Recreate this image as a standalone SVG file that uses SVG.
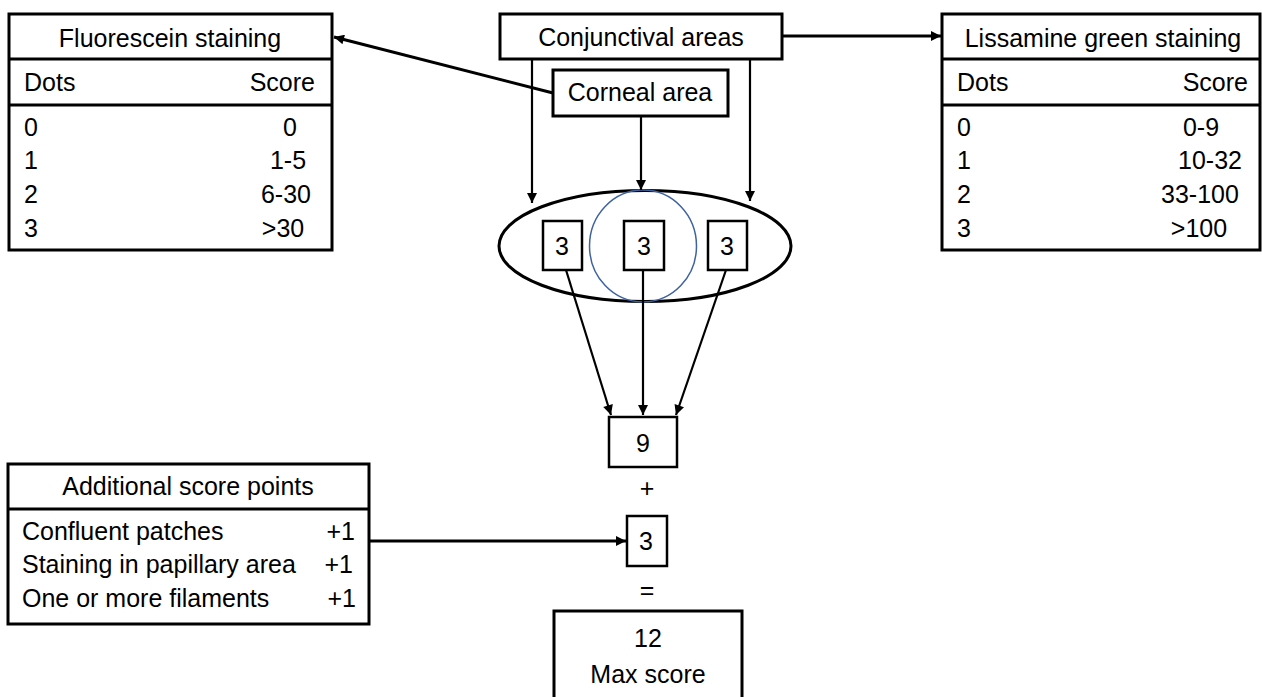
<svg xmlns="http://www.w3.org/2000/svg" width="1262" height="697" viewBox="0 0 1262 697">
<style>
text{font-family:"Liberation Sans",Arial,sans-serif;font-size:25px;fill:#000}
.box{fill:#fff;stroke:#000;stroke-width:3}
.sbox{fill:#fff;stroke:#000;stroke-width:2.5}
.sep{stroke:#000;stroke-width:3}
.c{text-anchor:middle}
.e{text-anchor:end}
.ln{stroke:#000;stroke-width:2.2;fill:none}
.lnt{stroke:#000;stroke-width:3;fill:none}
</style>
<defs>
<marker id="ah" viewBox="0 0 10 10" refX="10" refY="5" markerWidth="13" markerHeight="10" markerUnits="userSpaceOnUse" orient="auto"><path d="M0,0 L10,5 L0,10 z" fill="#000"/></marker>
</defs>
<rect width="1262" height="697" fill="#fff"/>
<g id="fluorescein">
<rect class="box" x="9" y="14" width="323" height="236"/>
<line class="sep" x1="9" y1="59" x2="332" y2="59"/>
<line class="sep" x1="9" y1="105" x2="332" y2="105"/>
<text class="c" x="170" y="47">Fluorescein staining</text>
<text x="24" y="91">Dots</text>
<text class="e" x="315" y="91">Score</text>
<text x="24" y="136">0</text><text class="c" x="290" y="136">0</text>
<text x="24" y="169">1</text><text class="c" x="288" y="169">1-5</text>
<text x="24" y="203">2</text><text class="c" x="286" y="203">6-30</text>
<text x="24" y="237">3</text><text class="c" x="283" y="237">&gt;30</text>
</g>
<g id="lissamine">
<rect class="box" x="942" y="14" width="318" height="236"/>
<line class="sep" x1="942" y1="59" x2="1260" y2="59"/>
<line class="sep" x1="942" y1="105" x2="1260" y2="105"/>
<text class="c" x="1103" y="47">Lissamine green staining</text>
<text x="957" y="91">Dots</text>
<text class="e" x="1248" y="91">Score</text>
<text x="957" y="136">0</text><text class="c" x="1201" y="136">0-9</text>
<text x="957" y="169">1</text><text class="c" x="1210" y="169">10-32</text>
<text x="957" y="203">2</text><text class="c" x="1200" y="203">33-100</text>
<text x="957" y="237">3</text><text class="c" x="1199" y="237">&gt;100</text>
</g>
<g id="conjunctival">
<rect class="box" x="500" y="14" width="282" height="45"/>
<text class="c" x="641" y="46">Conjunctival areas</text>
</g>
<g id="corneal">
<rect class="box" x="553" y="70" width="175" height="46"/>
<text class="c" x="640" y="101">Corneal area</text>
</g>
<g id="eye">
<ellipse cx="645" cy="246" rx="146" ry="55.5" fill="#fff" stroke="#000" stroke-width="3"/>
<ellipse cx="643" cy="246" rx="53.5" ry="56" fill="none" stroke="#3f62a0" stroke-width="1.5"/>
</g>
<g id="score-left">
<rect class="sbox" x="543" y="221" width="39" height="49"/>
<text class="c" x="562" y="255">3</text>
</g>
<g id="score-mid">
<rect class="sbox" x="624" y="221" width="40" height="49"/>
<text class="c" x="644" y="255">3</text>
</g>
<g id="score-right">
<rect class="sbox" x="708" y="221" width="39" height="49"/>
<text class="c" x="727" y="255">3</text>
</g>
<g id="nine">
<rect class="sbox" x="609" y="417" width="68" height="50"/>
<text class="c" x="643" y="452">9</text>
</g>
<g id="plus"><text class="c" x="647" y="497">+</text></g>
<g id="three">
<rect class="sbox" x="627" y="516" width="40" height="50"/>
<text class="c" x="646" y="550">3</text>
</g>
<g id="equals"><text class="c" x="647" y="599">=</text></g>
<g id="max">
<rect class="box" x="554" y="611" width="188" height="90"/>
<text class="c" x="648" y="647">12</text>
<text class="c" x="648" y="683">Max score</text>
</g>
<g id="additional">
<rect class="box" x="8" y="464" width="361" height="160"/>
<line class="sep" x1="8" y1="509" x2="369" y2="509"/>
<text class="c" x="188" y="495">Additional score points</text>
<text x="22" y="540">Confluent patches</text><text class="e" x="355" y="540">+1</text>
<text x="22" y="573">Staining in papillary area</text><text class="e" x="353" y="573">+1</text>
<text x="22" y="607">One or more filaments</text><text class="e" x="356" y="607">+1</text>
</g>
<g id="connectors">
<line class="lnt" x1="782" y1="36" x2="941" y2="36" marker-end="url(#ah)"/>
<line class="lnt" x1="553" y1="93" x2="334" y2="37" marker-end="url(#ah)"/>
<line class="ln" x1="532" y1="59" x2="532" y2="203" marker-end="url(#ah)"/>
<line class="ln" x1="750" y1="59" x2="750" y2="201" marker-end="url(#ah)"/>
<line class="ln" x1="641" y1="116" x2="641" y2="190" marker-end="url(#ah)"/>
<line class="ln" x1="566" y1="270" x2="611" y2="415" marker-end="url(#ah)"/>
<line class="ln" x1="643" y1="270" x2="643" y2="415" marker-end="url(#ah)"/>
<line class="ln" x1="726" y1="270" x2="676" y2="415" marker-end="url(#ah)"/>
<line class="lnt" x1="369" y1="541" x2="626" y2="541" marker-end="url(#ah)"/>
</g>
</svg>
